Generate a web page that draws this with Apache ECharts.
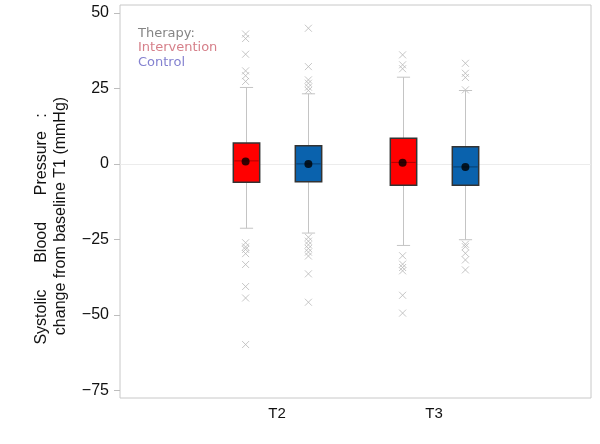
<!DOCTYPE html>
<html><head><meta charset="utf-8">
<script src="https://cdn.jsdelivr.net/npm/echarts@6/dist/echarts.min.js"></script>
<style>html,body{margin:0;padding:0;background:#fff}#c{width:600px;height:444px}</style>
</head><body><div id="c"></div>
<script>
// ---- data ----
const timepoints = ['T2', 'T3'];
const therapies = ['Intervention', 'Control'];
const yTicks = [-75, -50, -25, 0, 25, 50];
// per timepoint: [lowWhisker, q1, median, q3, highWhisker]
const interventionBox = [[-21.3, -6.1, 1.0, 6.9, 25.3], [-27.0, -7.1, 0.5, 8.5, 28.7]];
const controlBox = [[-22.9, -5.9, 0.0, 6.0, 23.2], [-25.1, -7.1, -1.0, 5.7, 24.3]];
const interventionMean = [0.8, 0.4];
const controlMean = [0.0, -1.0];
const interventionOutT2 = [43.0, 41.5, 36.3, 30.8, 29.2, 27.3, -26.1, -27.5, -28.3, -29.7, -33.3, -40.6, -44.4, -59.8];
const interventionOutT3 = [36.1, 32.8, 31.5, -30.4, -33.2, -34.3, -35.4, -43.5, -49.4];
const controlOutT2 = [44.9, 32.2, 27.8, 26.7, 25.4, 24.3, -24.3, -25.6, -26.8, -28.0, -29.2, -30.5, -36.4, -45.8];
const controlOutT3 = [33.3, 30.0, 28.6, 24.5, -26.6, -27.4, -29.6, -31.8, -35.1];

// ---- layout helpers ----
const offset = [-0.2, 0.2];
const fills = ['#ff0000', '#0a62ad'];
const medColors = ['#b00000', '#063d70'];
const boxes = [interventionBox, controlBox];
const means = [interventionMean, controlMean];
const outs = [[interventionOutT2, interventionOutT3], [controlOutT2, controlOutT3]];

function xPos(ti, gi) { return gi + 1 + offset[ti]; }

const boxData = [], meanData = [], outData = [];
for (let ti = 0; ti < 2; ti++) {
  for (let gi = 0; gi < 2; gi++) {
    const b = boxes[ti][gi];
    boxData.push([xPos(ti, gi), b[0], b[1], b[2], b[3], b[4], ti]);
    meanData.push([xPos(ti, gi), means[ti][gi]]);
    outs[ti][gi].forEach(v => outData.push([xPos(ti, gi), v]));
  }
}

const chart = echarts.init(document.getElementById('c'), null, {renderer: 'canvas'});
chart.setOption({
  animation: false,
  backgroundColor: '#fff',
  grid: {left: 120, right: 9, top: 5, bottom: 46, show: true, borderColor: '#c8c8c8', borderWidth: 1},
  xAxis: {
    type: 'value', min: 0, max: 3,
    axisLine: {show: false}, axisTick: {show: false}, splitLine: {show: false},
    axisLabel: {customValues: [1, 2], formatter: v => timepoints[Math.round(v) - 1],
      color: '#111', fontFamily: 'Liberation Sans', fontSize: 15, margin: 8}
  },
  yAxis: {
    type: 'value', min: -77.5, max: 52.6,
    axisLine: {show: false}, splitLine: {show: false},
    axisTick: {show: true, customValues: yTicks, length: 6, lineStyle: {color: '#bdbdbd'}},
    axisLabel: {customValues: yTicks, formatter: v => (v < 0 ? '\u2212' + (-v) : '' + v),
      color: '#111', fontFamily: 'Liberation Sans', fontSize: 16, margin: 11}
  },
  graphic: [
    {type: 'text', x: 42, y: 229, rotation: Math.PI / 2,
      style: {text: 'Systolic      Blood      Pressure   :', fill: '#111', font: '16px Liberation Sans', align: 'center', verticalAlign: 'middle'}},
    {type: 'text', x: 61, y: 216, rotation: Math.PI / 2,
      style: {text: 'change from baseline T1 (mmHg)', fill: '#111', font: '16px Liberation Sans', align: 'center', verticalAlign: 'middle'}},
    {type: 'text', x: 138, y: 34, style: {text: 'Therapy:', fill: '#858585', font: '13px DejaVu Sans', verticalAlign: 'middle'}},
    {type: 'text', x: 138, y: 48, style: {text: therapies[0], fill: '#d6808a', font: '13px DejaVu Sans', verticalAlign: 'middle'}},
    {type: 'text', x: 138, y: 63, style: {text: therapies[1], fill: '#8482d0', font: '13px DejaVu Sans', verticalAlign: 'middle'}}
  ],
  series: [
    {
      type: 'line', data: [], silent: true, z: 0,
      markLine: {silent: true, symbol: 'none', label: {show: false}, z: 0,
        lineStyle: {color: '#ececec', width: 1, type: 'solid'}, data: [{yAxis: 0}]}
    },
    {
      type: 'scatter', data: outData, symbol: 'path://M0,0L10,10M10,0L0,10', symbolSize: 7, z: 2,
      itemStyle: {color: 'none', borderColor: '#b8b8b8', borderWidth: 1}
    },
    {
      type: 'custom', z: 3,
      encode: {x: 0, y: [1, 2, 3, 4, 5]},
      data: boxData,
      renderItem: function (params, api) {
        const x = api.value(0);
        const ti = api.value(6);
        const lo = api.coord([x, api.value(1)]);
        const q1 = api.coord([x, api.value(2)]);
        const md = api.coord([x, api.value(3)]);
        const q3 = api.coord([x, api.value(4)]);
        const hi = api.coord([x, api.value(5)]);
        const bw = api.size([0.168, 0])[0];
        const cw = api.size([0.084, 0])[0];
        const cx = Math.round(lo[0]) + 0.5;
        const ws = {stroke: '#c4c4c4', lineWidth: 1};
        return {
          type: 'group', children: [
            {type: 'line', shape: {x1: cx, y1: hi[1], x2: cx, y2: q3[1]}, style: ws},
            {type: 'line', shape: {x1: cx, y1: q1[1], x2: cx, y2: lo[1]}, style: ws},
            {type: 'line', shape: {x1: cx - cw / 2, y1: hi[1], x2: cx + cw / 2, y2: hi[1]}, style: ws},
            {type: 'line', shape: {x1: cx - cw / 2, y1: lo[1], x2: cx + cw / 2, y2: lo[1]}, style: ws},
            {type: 'rect', shape: {x: cx - bw / 2, y: q3[1], width: bw, height: q1[1] - q3[1]},
              style: {fill: fills[ti], stroke: '#333', lineWidth: 1.5}},
            {type: 'line', shape: {x1: cx - bw / 2 + 1, y1: md[1], x2: cx + bw / 2 - 1, y2: md[1]},
              style: {stroke: medColors[ti], lineWidth: 1}}
          ]
        };
      }
    },
    {
      type: 'scatter', data: meanData, symbol: 'circle', symbolSize: 8, z: 4,
      itemStyle: {color: '#000'}
    }
  ]
});
</script>
</body></html>
